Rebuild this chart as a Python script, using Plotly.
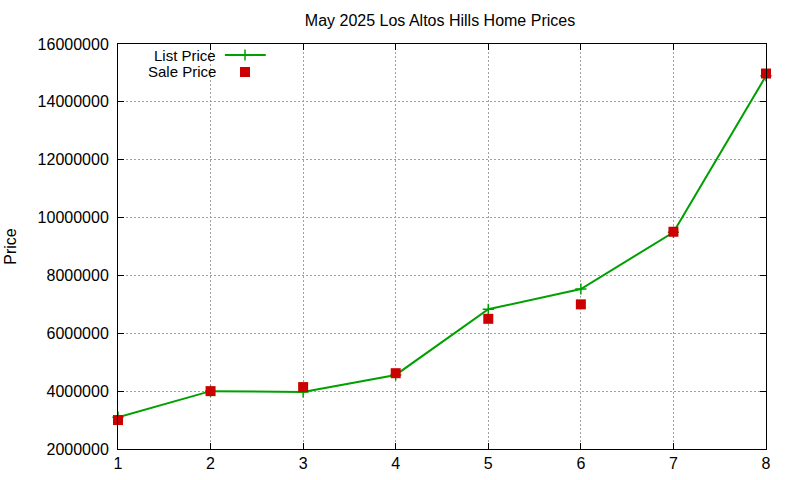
import plotly.graph_objects as go

# May 2025 home sales, indexed 1..8
house_idx = [1, 2, 3, 4, 5, 6, 7, 8]
list_price = [3100000, 4000000, 3970000, 4560000, 6830000, 7530000, 9490000, 14900000]
sale_price = [3000000, 4000000, 4140000, 4620000, 6500000, 7000000, 9510000, 14980000]

y_ticks = [2000000, 4000000, 6000000, 8000000, 10000000, 12000000, 14000000, 16000000]

GREEN = '#00a000'
RED = '#cc0000'
FONT = 'Liberation Sans, Arial, sans-serif'

fig = go.Figure()

fig.add_trace(go.Scatter(
    x=house_idx, y=list_price, mode='lines+markers', name='List Price',
    line=dict(color=GREEN, width=2),
    marker=dict(symbol='cross-thin', size=8, line=dict(color=GREEN, width=1.5)),
    cliponaxis=False,
))
fig.add_trace(go.Scatter(
    x=house_idx, y=sale_price, mode='markers', name='Sale Price',
    marker=dict(symbol='square', size=10, color=RED),
    cliponaxis=False,
))

# gnuplot style key: text on the left, sample on the right (drawn on a hidden overlay axis)
KEY_Y = [0.9728, 0.9309]
fig.add_trace(go.Scatter(
    x=[0.165, 0.228], y=[KEY_Y[0], KEY_Y[0]], xaxis='x2', yaxis='y2', mode='lines',
    line=dict(color=GREEN, width=2), showlegend=False, hoverinfo='skip',
))
fig.add_trace(go.Scatter(
    x=[0.196], y=[KEY_Y[0]], xaxis='x2', yaxis='y2', mode='markers',
    marker=dict(symbol='cross-thin', size=8, line=dict(color=GREEN, width=1.5)),
    showlegend=False, hoverinfo='skip',
))
fig.add_trace(go.Scatter(
    x=[0.196], y=[KEY_Y[1]], xaxis='x2', yaxis='y2', mode='markers',
    marker=dict(symbol='square', size=10, color=RED),
    showlegend=False, hoverinfo='skip',
))

for label, ky in zip(['List Price', 'Sale Price'], KEY_Y):
    fig.add_annotation(x=0.154, y=ky, xref='paper', yref='paper', text=label,
                       showarrow=False, xanchor='right', yanchor='middle', height=15,
                       font=dict(size=15, color='black', family=FONT))

axis_style = dict(
    showline=True, linecolor='black', linewidth=1, mirror='ticks',
    ticks='inside', ticklen=6, tickcolor='black',
    showgrid=True, gridcolor='#a0a0a0', griddash='2px,2px', gridwidth=1,
    zeroline=False, automargin=False,
    tickfont=dict(size=16, color='black', family=FONT),
)

fig.update_layout(
    width=800, height=480,
    margin=dict(l=118, r=34, t=44, b=31),
    paper_bgcolor='white', plot_bgcolor='white',
    showlegend=False,
    font=dict(family=FONT, color='black'),
    title=dict(text='May 2025 Los Altos Hills Home Prices', x=0.55, xanchor='center',
               y=0.958, yanchor='middle', font=dict(size=16, color='black', family=FONT)),
    xaxis=dict(range=[1, 8], tickvals=house_idx, **axis_style),
    yaxis=dict(range=[2000000, 16000000], tickvals=y_ticks, tickformat='d',
               ticklabelstandoff=5,
               title=dict(text='Price', standoff=17, font=dict(size=16, family=FONT)),
               **axis_style),
    xaxis2=dict(overlaying='x', range=[0, 1], visible=False),
    yaxis2=dict(overlaying='y', range=[0, 1], visible=False),
)

# page body has a default 8px margin; drop it so the figure sits at the window corner
fig.write_html('out.html', config={'displayModeBar': False},
               post_script="document.body.style.margin='0';")
